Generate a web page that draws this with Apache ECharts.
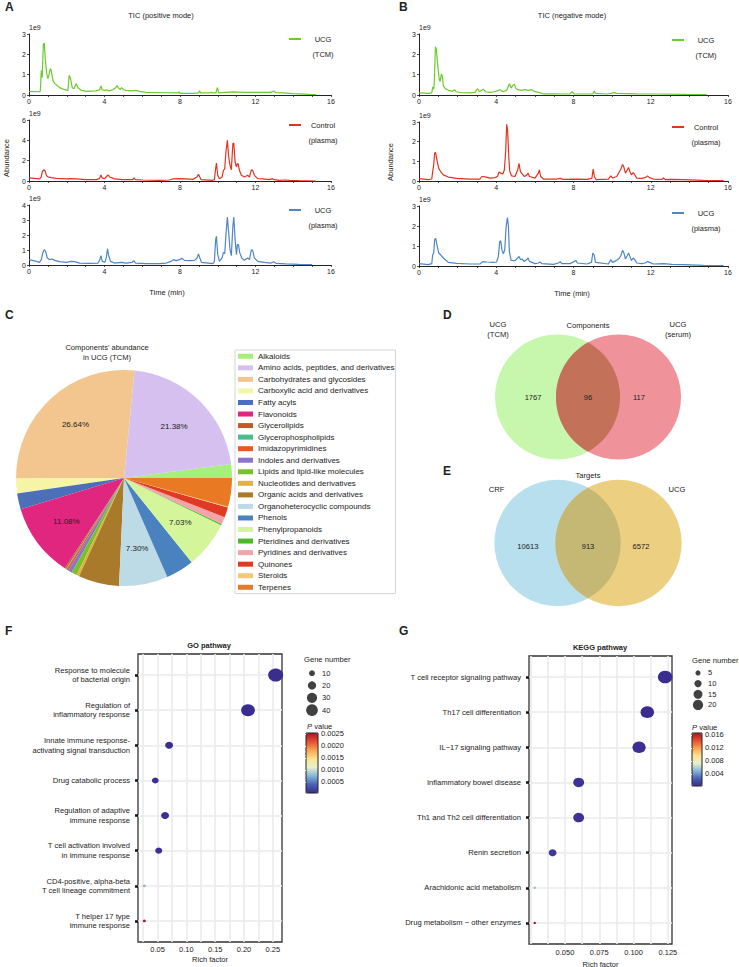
<!DOCTYPE html>
<html>
<head>
<meta charset="utf-8">
<script src="https://cdn.jsdelivr.net/npm/echarts@6/dist/echarts.min.js"></script>
<style>
  html, body { margin: 0; padding: 0; background: #fff; }
  #main { width: 739px; height: 967px; }
</style>
</head>
<body>
<div id="main"></div>
<script>
var FONT = '"Liberation Sans", Arial, Helvetica, sans-serif';

// ---- A / B : TIC chromatograms, [time (min), abundance (x1e9)] ----
var ticPosTcm = [[0,.18],[.56,.16],[.6,.2],[.65,1.2],[.7,.85],[.76,2.5],[.81,2.55],[.86,1.8],[.93,1.1],[1.0,.8],[1.06,1.0],[1.13,1.3],[1.18,1.2],[1.27,.72],[1.36,.56],[1.48,.48],[1.62,.36],[1.89,.26],[2.06,.23],[2.13,.97],[2.2,.8],[2.29,.36],[2.38,.31],[2.49,.56],[2.6,.36],[2.77,.23],[3.03,.18],[3.56,.2],[3.74,.26],[3.81,.44],[3.88,.26],[4.0,.23],[4.13,.26],[4.23,.2],[4.44,.26],[4.59,.36],[4.66,.46],[4.73,.36],[4.83,.26],[4.9,.36],[5.0,.26],[5.15,.23],[5.41,.2],[5.68,.23],[5.86,.18],[6.2,.13],[7.27,.11],[7.9,.1],[7.95,.16],[8.0,.08],[8.68,.08],[8.98,.1],[9.03,.21],[9.1,.1],[9.56,.1],[9.65,.13],[9.74,.1],[9.9,.1],[9.98,.36],[10.05,.1],[10.44,.13],[10.8,.15],[11.5,.13],[12.2,.13],[12.82,.13],[12.96,.2],[13.09,.11],[13.44,.1],[13.97,.07],[14.85,.03],[15.2,.02]];
var ticPosControl = [[0,.3],[.56,.2],[.65,.4],[.7,.9],[.78,1.1],[.85,1.0],[.92,.55],[1.0,.4],[1.18,.33],[1.45,.26],[1.98,.2],[2.24,.23],[2.5,.2],[3.03,.13],[3.56,.13],[3.74,.23],[3.81,.59],[3.88,.3],[4.0,.23],[4.13,.49],[4.2,.59],[4.27,.39],[4.37,.33],[4.53,.2],[4.97,.13],[5.5,.13],[5.56,.3],[5.64,.13],[6.03,.1],[6.9,.07],[7.44,.1],[7.62,.2],[7.97,.23],[8.32,.2],[8.68,.16],[8.9,.39],[8.98,.66],[9.05,.39],[9.12,.13],[9.74,.07],[9.82,.13],[9.88,1.1],[9.93,1.77],[10.0,.56],[10.09,.23],[10.23,.39],[10.3,1.05],[10.37,1.2],[10.44,3.0],[10.51,4.0],[10.58,2.36],[10.65,1.54],[10.72,1.1],[10.8,3.67],[10.85,3.74],[10.92,1.87],[10.99,1.38],[11.04,1.7],[11.08,1.68],[11.15,1.05],[11.25,.56],[11.41,.39],[11.59,.56],[11.68,.39],[11.78,1.1],[11.85,1.05],[11.94,.56],[12.12,.23],[12.38,.2],[12.73,.13],[12.9,.23],[13.0,.13],[13.26,.07],[13.6,.1],[13.8,.07],[14.3,.03],[15.2,0]];
var ticPosUcg = [[0,.36],[.39,.24],[.56,.18],[.65,.36],[.74,.84],[.81,1.02],[.88,.91],[.97,.47],[1.09,.36],[1.23,.4],[1.36,.31],[1.62,.22],[1.98,.18],[2.24,.24],[2.42,.22],[2.68,.13],[3.21,.11],[3.65,.13],[3.74,.31],[3.81,.62],[3.88,.24],[4.02,.18],[4.09,.47],[4.16,1.07],[4.23,.58],[4.32,.24],[4.53,.13],[4.89,.18],[5.15,.13],[5.47,.18],[5.56,.29],[5.64,.13],[6.21,.09],[6.9,.09],[7.27,.13],[7.53,.24],[7.65,.36],[7.8,.29],[7.97,.36],[8.11,.44],[8.24,.31],[8.5,.29],[8.77,.31],[8.9,.47],[8.98,.73],[9.05,.47],[9.14,.18],[9.74,.09],[9.82,.24],[9.89,1.69],[9.93,1.91],[10.0,.69],[10.09,.24],[10.23,.47],[10.3,.84],[10.37,.76],[10.44,2.13],[10.51,3.2],[10.58,2.13],[10.65,1.02],[10.72,.62],[10.8,2.58],[10.85,3.2],[10.92,1.69],[10.99,.69],[11.04,1.36],[11.1,1.36],[11.16,.84],[11.27,.47],[11.41,.31],[11.59,.47],[11.68,.36],[11.78,1.02],[11.85,.98],[11.94,.47],[12.12,.24],[12.47,.18],[12.82,.13],[12.96,.22],[13.09,.11],[13.6,.07],[14.3,.04],[15.0,.02]];
var ticNegTcm = [[0,.1],[.48,.08],[.66,.1],[.71,.39],[.76,.29],[.79,.58],[.85,2.37],[.9,2.24],[.97,1.47],[1.04,.83],[1.09,.66],[1.16,1.04],[1.21,.91],[1.26,.45],[1.36,.32],[1.52,.23],[1.74,.18],[1.85,.26],[1.92,.16],[2.21,.11],[2.64,.1],[2.9,.13],[3.02,.31],[3.13,.16],[3.25,.23],[3.33,.29],[3.44,.16],[3.68,.13],[3.89,.16],[4.11,.23],[4.2,.26],[4.34,.16],[4.54,.23],[4.68,.55],[4.77,.34],[4.85,.47],[4.94,.53],[5.01,.34],[5.11,.26],[5.32,.23],[5.49,.26],[5.66,.23],[5.84,.26],[5.96,.18],[6.18,.13],[6.44,.06],[6.96,.06],[7.48,.05],[7.82,.06],[7.94,.16],[8.03,.06],[8.69,.05],[9.0,.06],[9.07,.19],[9.14,.08],[9.72,.05],[9.98,.08],[10.1,.13],[10.24,.08],[11.28,.06],[12.31,.05],[13.87,.03],[14.9,.02]];
var ticNegControl = [[0,.12],[.48,.07],[.66,.1],[.71,.48],[.76,.81],[.81,1.42],[.86,1.44],[.93,1.06],[1.02,.64],[1.12,.48],[1.26,.31],[1.52,.2],[1.95,.13],[2.64,.1],[3.16,.1],[3.25,.23],[3.42,.21],[3.68,.15],[3.94,.17],[4.06,.23],[4.15,.46],[4.23,.4],[4.34,.36],[4.42,.56],[4.49,1.55],[4.54,2.88],[4.59,2.55],[4.65,1.22],[4.7,.48],[4.8,.26],[4.97,.23],[5.11,.56],[5.18,.89],[5.25,.48],[5.35,.35],[5.46,.23],[5.58,.31],[5.65,.4],[5.72,.23],[6.01,.15],[6.18,.4],[6.23,.56],[6.3,.23],[6.44,.1],[7.13,.1],[7.31,.13],[7.48,.08],[8.17,.1],[8.69,.08],[8.95,.13],[9.02,.6],[9.08,.23],[9.17,.07],[9.81,.1],[9.93,.26],[10.02,.15],[10.24,.23],[10.38,.48],[10.45,.6],[10.54,.84],[10.6,.73],[10.69,.4],[10.78,.56],[10.85,.69],[10.92,.48],[11.0,.31],[11.09,.43],[11.17,.31],[11.28,.15],[11.54,.13],[11.71,.17],[11.83,.26],[11.93,.17],[12.14,.1],[12.57,.08],[12.66,.15],[12.75,.07],[13.09,.08],[13.7,.07],[14.73,.03],[15.77,.02]];
var ticNegUcg = [[0,.12],[.48,.07],[.66,.12],[.71,.56],[.76,.65],[.81,1.31],[.86,1.39],[.93,1.06],[1.02,.65],[1.12,.56],[1.26,.4],[1.52,.18],[1.95,.13],[2.64,.1],[3.16,.1],[3.3,.22],[3.51,.2],[3.85,.18],[4.02,.2],[4.11,.48],[4.18,1.23],[4.23,1.26],[4.3,.78],[4.37,.61],[4.44,.81],[4.51,1.97],[4.58,2.42],[4.63,1.97],[4.68,.73],[4.77,.28],[4.97,.27],[5.11,.4],[5.18,.48],[5.25,.32],[5.34,.35],[5.44,.23],[5.58,.32],[5.65,.4],[5.72,.23],[6.01,.12],[6.18,.15],[6.27,.2],[6.36,.12],[6.96,.08],[7.22,.15],[7.31,.22],[7.39,.12],[7.82,.12],[8.03,.22],[8.12,.28],[8.2,.15],[8.69,.1],[8.93,.18],[9.0,.65],[9.07,.56],[9.14,.18],[9.81,.1],[9.93,.32],[10.02,.18],[10.24,.28],[10.38,.4],[10.45,.51],[10.54,.78],[10.6,.68],[10.69,.35],[10.78,.51],[10.85,.65],[10.92,.48],[11.0,.27],[11.09,.4],[11.17,.32],[11.28,.15],[11.54,.12],[11.71,.15],[11.83,.23],[11.93,.18],[12.14,.1],[12.66,.12],[13.09,.08],[13.7,.07],[14.73,.03],[15.77,.02]];

// ---- C : component classes (%) ----
var pieNames = ['Alkaloids', 'Amino acids, peptides, and derivatives', 'Carbohydrates and glycosides', 'Carboxylic acid and derivatives', 'Fatty acyls', 'Flavonoids', 'Glycerolipids', 'Glycerophospholipids', 'Imidazopyrimidines', 'Indoles and derivatives', 'Lipids and lipid-like molecules', 'Nucleotides and derivatives', 'Organic acids and derivatives', 'Organoheterocyclic compounds', 'Phenols', 'Phenylpropanoids', 'Pteridines and derivatives', 'Pyridines and derivatives', 'Quinones', 'Steroids', 'Terpenes'];
var pieValues = [2.07, 21.38, 26.64, 2.2, 2.4, 11.08, 0.2, 0.1, 0.3, 0.6, 0.8, 0.4, 6.1, 7.30, 4.2, 7.03, 0.2, 1.1, 1.5, 0.1, 4.3];
var pieColors = ['#a6ef7a', '#d5c0ef', '#f2c68e', '#f5f5a5', '#4b6fb8', '#e0267e', '#c4582a', '#4dbb8a', '#e35a22', '#8c73cf', '#77c12a', '#e2b23a', '#a87a2a', '#bcdbe6', '#4a82c0', '#d5f59a', '#4fb82a', '#f3a3aa', '#e03a22', '#f2c878', '#e97a23'];

// ---- D / E : Venn counts [left only, shared, right only] ----
var vennDSets = ['UCG\n(TCM)', 'UCG\n(serum)'];
var vennDCounts = [1767, 96, 117];
var vennESets = ['CRF', 'UCG'];
var vennECounts = [10613, 913, 6572];

// ---- F : GO enrichment ----
var goTerms = ['Response to molecule\nof bacterial origin', 'Regulation of\ninflammatory response', 'Innate immune response-\nactivating signal transduction', 'Drug catabolic process', 'Regulation of adaptive\nimmune response', 'T cell activation involved\nin immune response', 'CD4-positive, alpha-beta\nT cell lineage commitment', 'T helper 17 type\nimmune response'];
var goRich = [0.255, 0.207, 0.070, 0.046, 0.063, 0.052, 0.027, 0.027];
var goGenes = [50, 42, 14, 10, 14, 11, 2, 2];
var goP = [0.00004, 0.00004, 0.00005, 0.00006, 0.00005, 0.00006, 0.00075, 0.00254];
var goRichTicks = [0.05, 0.10, 0.15, 0.20, 0.25];
var goGeneBreaks = [10, 20, 30, 40];
var goPTicks = [0.0005, 0.0010, 0.0015, 0.0020, 0.0025];

// ---- G : KEGG enrichment ----
var keggTerms = ['T cell receptor signaling pathway', 'Th17 cell differentiation', 'IL\u221217 signaling pathway', 'Inflammatory bowel disease', 'Th1 and Th2 cell differentiation', 'Renin secretion', 'Arachidonic acid metabolism', 'Drug metabolism \u2212 other enzymes'];
var keggRich = [0.123, 0.110, 0.104, 0.060, 0.060, 0.041, 0.028, 0.028];
var keggGenes = [30, 26, 25, 17, 17, 9, 1, 1];
var keggP = [0.0003, 0.0003, 0.0004, 0.0006, 0.0006, 0.0009, 0.0052, 0.0166];
var keggRichTicks = [0.050, 0.075, 0.100, 0.125];
var keggGeneBreaks = [5, 10, 15, 20];
var keggPTicks = [0.004, 0.008, 0.012, 0.016];

var PAL = ['#3b2c90', '#4a62b4', '#86b6db', '#e9f1cc', '#fde38f', '#f8a255', '#e64e2e', '#a8162a'];
var GREEN = '#6acb2e', RED = '#e5321f', BLUE = '#4f86c6';

var grids = [], xAxes = [], yAxes = [], series = [], legends = [], graphics = [], visualMaps = [];

function addGrid(box, extra) {
    var g = { left: box[0], top: box[1], width: box[2], height: box[3], containLabel: false, outerBoundsMode: 'none' };
    for (var k in (extra || {})) g[k] = extra[k];
    grids.push(g);
    return grids.length - 1;
}

function txt(x, y, text, size, opt) {
    opt = opt || {};
    var el = {
        type: 'text', x: x, y: y, rotation: opt.rotation || 0, silent: true,
        style: {
            text: text, fill: '#222',
            font: (opt.weight || 'normal') + ' ' + size + 'px ' + FONT,
            textAlign: opt.align || 'center', textVerticalAlign: 'middle',
            lineHeight: opt.lineHeight || size * 1.3
        }
    };
    if (opt.rich) el.style.rich = opt.rich;
    return el;
}

// ---------- A / B ----------
var ticPanels = [
    { data: ticPosTcm, name: 'UCG (TCM)', color: GREEN, max: 3, step: 1, box: [29, 34, 302, 61], leg: [289, 40] },
    { data: ticPosControl, name: 'Control (plasma)', color: RED, max: 6, step: 2, box: [29, 120, 302, 61], leg: [289, 126] },
    { data: ticPosUcg, name: 'UCG (plasma)', color: BLUE, max: 4, step: 1, box: [29, 205, 302, 60], leg: [289, 211] },
    { data: ticNegTcm, name: 'UCG (TCM)', color: GREEN, max: 3, step: 1, box: [419, 34, 309, 61], leg: [672, 41] },
    { data: ticNegControl, name: 'Control (plasma)', color: RED, max: 3, step: 1, box: [419, 122, 309, 59], leg: [672, 128] },
    { data: ticNegUcg, name: 'UCG (plasma)', color: BLUE, max: 3, step: 1, box: [419, 206, 309, 60], leg: [672, 214] }
];

ticPanels.forEach(function (p) {
    var g = addGrid(p.box);
    xAxes.push({
        gridIndex: g, type: 'value', min: 0, max: 16, interval: 1,
        axisLine: { show: true, onZero: false, lineStyle: { color: '#222', width: 1 } },
        axisTick: { show: true, length: 2, lineStyle: { color: '#222', width: 0.8 } },
        axisLabel: { fontSize: 7, color: '#222', margin: 3, fontFamily: FONT,
            formatter: function (v) { return v % 4 === 0 ? String(v) : ''; } },
        splitLine: { show: false }
    });
    yAxes.push({
        gridIndex: g, type: 'value', min: 0, max: p.max, interval: p.step,
        name: '1e9', nameLocation: 'end', nameGap: 0,
        nameTextStyle: { fontSize: 7, color: '#222', align: 'left', fontFamily: FONT },
        axisLine: { show: true, lineStyle: { color: '#222', width: 1 } },
        axisTick: { show: true, length: 2, lineStyle: { color: '#222', width: 0.8 } },
        axisLabel: { fontSize: 7, color: '#222', margin: 3, fontFamily: FONT },
        splitLine: { show: false }
    });
    series.push({
        type: 'line', name: p.name, xAxisIndex: g, yAxisIndex: g, data: p.data,
        showSymbol: false, symbol: 'none', silent: true,
        lineStyle: { width: 1.2, color: p.color }, itemStyle: { color: p.color }
    });
    var parts = p.name.split(' ');
    legends.push({
        data: [p.name], left: p.leg[0], top: p.leg[1] - 5, padding: 0,
        icon: 'rect', itemWidth: 12, itemHeight: 2, selectedMode: false,
        formatter: function () { return '{a|' + parts[0] + '}'; },
        textStyle: { rich: { a: { width: 34, align: 'center', fontSize: 7.5, lineHeight: 10, color: '#222', fontFamily: FONT } } }
    });
    graphics.push(txt(p.leg[0] + 34, p.leg[1] + 14.5, parts[1], 7.5));
});

graphics.push(txt(161, 15, 'TIC (positive mode)', 7.5));
graphics.push(txt(572, 15, 'TIC (negative mode)', 7.5));
graphics.push(txt(167, 292, 'Time (min)', 7.5));
graphics.push(txt(572, 293, 'Time (min)', 7.5));
graphics.push(txt(6, 158, 'Abundance', 7.5, { rotation: Math.PI / 2 }));
graphics.push(txt(390, 162, 'Abundance', 7.5, { rotation: Math.PI / 2 }));

// ---------- C ----------
var pieData = pieNames.map(function (n, i) { return { name: n, value: pieValues[i] }; });
series.push({
    type: 'pie', name: 'classes', center: [124, 478], radius: [0, 108],
    startAngle: 0, clockwise: false, data: pieData, color: pieColors,
    label: { show: false }, labelLine: { show: false }, itemStyle: { borderWidth: 0 },
    emphasis: { disabled: true }, silent: true, avoidLabelOverlap: false
});
series.push({
    type: 'pie', name: 'classes-labels', center: [124, 478], radius: [30, 108],
    startAngle: 0, clockwise: false, data: pieData,
    itemStyle: { color: 'rgba(0,0,0,0)', borderWidth: 0 },
    label: { show: true, position: 'inside', fontSize: 8, color: '#222', fontFamily: FONT,
        formatter: function (p) { return p.value >= 7 ? p.value.toFixed(2) + '%' : ''; } },
    labelLine: { show: false }, emphasis: { disabled: true }, silent: true, avoidLabelOverlap: false,
    legendHoverLink: false
});
legends.push({
    data: pieNames, orient: 'vertical', left: 235, top: 350, selectedMode: false,
    itemWidth: 15, itemHeight: 5, itemGap: 0, icon: 'rect',
    padding: [0.5, 1, 0.5, 3], borderColor: '#d6d6d6', borderWidth: 1,
    textStyle: { fontSize: 8, color: '#222', fontFamily: FONT, lineHeight: 11.55 }
});
graphics.push(txt(107, 352, "Components' abundance\nin UCG (TCM)", 7.5, { lineHeight: 10 }));

// ---------- D / E ----------
function addVenn(center, sets, counts, colors, title, lay) {
    var g = addGrid([center[0] - 122, center[1] - 122, 244, 244]);
    xAxes.push({ gridIndex: g, type: 'value', min: -4, max: 4, show: false });
    yAxes.push({ gridIndex: g, type: 'value', min: -4, max: 4, show: false });
    series.push({
        type: 'custom', xAxisIndex: g, yAxisIndex: g, silent: true, clip: false,
        data: [[0, 0].concat(counts)],
        renderItem: function (params, api) {
            var c = api.coord([0, 0]);
            var u = api.size([1, 1])[0];
            var d = lay.offset * u, r = lay.radius * u, cx = c[0], cy = c[1];
            var a = Math.acos(d / r), pts = [], k, t;
            for (k = 0; k <= 48; k++) { t = -a + 2 * a * k / 48; pts.push([cx - d + r * Math.cos(t), cy + r * Math.sin(t)]); }
            for (k = 0; k <= 48; k++) { t = Math.PI - a + 2 * a * k / 48; pts.push([cx + d + r * Math.cos(t), cy + r * Math.sin(t)]); }
            return {
                type: 'group', children: [
                    { type: 'circle', shape: { cx: cx - d, cy: cy, r: r }, style: { fill: colors[0] } },
                    { type: 'circle', shape: { cx: cx + d, cy: cy, r: r }, style: { fill: colors[1] } },
                    { type: 'polygon', shape: { points: pts }, style: { fill: colors[2] } },
                    txt(cx - lay.numL * u, cy + lay.numDy * u, String(api.value(2)), 7.6),
                    txt(cx, cy + lay.numDy * u, String(api.value(3)), 7.6),
                    txt(cx + lay.numR * u, cy + lay.numDy * u, String(api.value(4)), 7.6),
                    txt(cx - lay.setL * u, cy - lay.setDy * u, sets[0], 7.6, { lineHeight: 10 }),
                    txt(cx + lay.setR * u, cy - lay.setDy * u, sets[1], 7.6, { lineHeight: 10 }),
                    txt(cx, cy - lay.titleDy * u, title, 7.6)
                ]
            };
        }
    });
}
addVenn([588, 397], vennDSets, vennDCounts, ['#c6f7ac', '#f0929a', '#c4715a'], 'Components',
    { offset: 1, radius: 2.05, numL: 1.8, numR: 1.67, numDy: 0, setL: 2.95, setR: 2.95, setDy: 2.2, titleDy: 2.36 });
addVenn([588, 543], vennESets, vennECounts, ['#b7dfee', '#eccf80', '#c5b774'], 'Targets',
    { offset: 1, radius: 2.07, numL: 1.97, numR: 1.74, numDy: 0.1, setL: 3.0, setR: 2.92, setDy: 1.77, titleDy: 2.2 });

// ---------- F / G ----------
function addEnrich(cfg) {
    var rows = cfg.terms.map(function (t, i) { return i; });
    var gridVals = [];
    for (var k = 1; k * cfg.minor <= cfg.xMax + 1e-9; k++) {
        if (k * cfg.minor >= cfg.xMin) gridVals.push(+(k * cfg.minor).toFixed(5));
    }
    var g = addGrid(cfg.box, { show: true, borderColor: '#333', borderWidth: 1.3, backgroundColor: '#fff' });
    xAxes.push({
        gridIndex: g, type: 'value', min: cfg.xMin, max: cfg.xMax,
        axisLine: { show: false },
        axisTick: { show: false, customValues: gridVals },
        axisLabel: { customValues: cfg.xTicks, fontSize: 7.5, color: '#222', margin: cfg.labelMargin, fontFamily: FONT,
            formatter: function (v) { return v.toFixed(cfg.dec); } },
        splitLine: { show: true, lineStyle: { color: '#ebebeb', width: 1.6 } },
        name: 'Rich factor', nameLocation: 'middle', nameGap: cfg.nameGap,
        nameTextStyle: { fontSize: 7.5, color: '#222', fontFamily: FONT }
    });
    yAxes.push({
        gridIndex: g, type: 'value', min: -0.6, max: cfg.terms.length - 0.4, inverse: true,
        axisLine: { show: false },
        axisTick: { show: true, customValues: rows, length: 3, lineStyle: { color: '#111', width: 2.5 } },
        axisLabel: { customValues: rows, fontSize: 7.6, color: '#222', margin: 8, lineHeight: 9.5, align: 'right', fontFamily: FONT,
            formatter: function (v) { return cfg.terms[Math.round(v)]; } },
        splitLine: { show: true, lineStyle: { color: '#ebebeb', width: 1.6 } }
    });
    series.push({
        type: 'scatter', xAxisIndex: g, yAxisIndex: g, silent: true, z: 5,
        data: cfg.rich.map(function (r, i) { return [r, i, cfg.genes[i], cfg.p[i]]; }),
        symbolSize: function (v) { var s = cfg.size(v[2]); return [s * 1.15, s]; },
        itemStyle: { opacity: 1 }
    });
    visualMaps.push({
        type: 'continuous', seriesIndex: series.length - 1, dimension: 3,
        min: cfg.pMin, max: cfg.pMax, inRange: { color: PAL },
        left: cfg.bar[0], top: cfg.bar[1], itemWidth: cfg.bar[2], itemHeight: cfg.bar[3],
        calculable: false, hoverLink: false, padding: 0, show: true
    });
    var gb = addGrid(cfg.bar, { show: true, borderColor: '#222', borderWidth: 1, backgroundColor: 'rgba(0,0,0,0)', z: 10 });
    xAxes.push({ gridIndex: gb, type: 'value', show: false, min: 0, max: 1 });
    yAxes.push({
        gridIndex: gb, type: 'value', position: 'right', min: cfg.pMin, max: cfg.pMax, z: 11,
        axisLine: { show: false },
        axisTick: { show: true, inside: true, customValues: cfg.pTicks, length: 2, lineStyle: { color: '#fff', width: 1 } },
        axisLabel: { customValues: cfg.pTicks, fontSize: 7.5, color: '#222', margin: 3, fontFamily: FONT,
            formatter: function (v) { return v.toFixed(cfg.pDec); } },
        splitLine: { show: false }
    });
    var gs = addGrid(cfg.sizeBox);
    xAxes.push({ gridIndex: gs, type: 'value', show: false, min: -1, max: 1 });
    yAxes.push({
        gridIndex: gs, type: 'category', inverse: true, position: 'right', data: cfg.breaks.map(String),
        axisLine: { show: false }, axisTick: { show: false },
        axisLabel: { fontSize: 7.5, color: '#222', margin: 4, fontFamily: FONT }, splitLine: { show: false }
    });
    series.push({
        type: 'scatter', xAxisIndex: gs, yAxisIndex: gs, silent: true,
        data: cfg.breaks.map(function (b, i) { return [0, i, b]; }),
        symbolSize: function (v) { return cfg.size(v[2]); },
        itemStyle: { color: '#111' }
    });
    graphics.push(txt(cfg.title[0], cfg.title[1], cfg.titleText, 7.5, { weight: 'bold' }));
    graphics.push(txt(cfg.geneTitle[0], cfg.geneTitle[1], 'Gene number', 7.6, { align: 'left' }));
    graphics.push(txt(cfg.pTitle[0], cfg.pTitle[1], '{i|P} value', 7.6, { align: 'left',
        rich: { i: { fontStyle: 'italic', fontSize: 7.6, fontFamily: FONT, fill: '#222' } } }));
}

addEnrich({
    terms: goTerms, rich: goRich, genes: goGenes, p: goP, xTicks: goRichTicks, dec: 2,
    xMin: 0.016, xMax: 0.266, minor: 0.025, box: [138, 654, 144, 288], labelMargin: 3, nameGap: 13,
    size: function (n) { return 1.85 * Math.sqrt(n); }, breaks: goGeneBreaks,
    pMin: 0.00004, pMax: 0.00254, pTicks: goPTicks, pDec: 4,
    bar: [306, 733, 12, 60], sizeBox: [306, 667, 12, 49.3],
    title: [209, 645], titleText: 'GO pathway', geneTitle: [304, 659], pTitle: [307, 726]
});
addEnrich({
    terms: keggTerms, rich: keggRich, genes: keggGenes, p: keggP, xTicks: keggRichTicks, dec: 3,
    xMin: 0.0238, xMax: 0.128, minor: 0.0125, box: [529, 656, 143, 288], labelMargin: 4, nameGap: 16,
    size: function (n) { return 2.3 * Math.sqrt(n); }, breaks: keggGeneBreaks,
    pMin: 0.0003, pMax: 0.0166, pTicks: keggPTicks, pDec: 3,
    bar: [692, 733, 10, 53], sizeBox: [692, 667.6, 12, 42.7],
    title: [600, 647], titleText: 'KEGG pathway', geneTitle: [692, 660], pTitle: [692, 727]
});

// panel letters
[['A', 5, 7], ['B', 399, 7], ['C', 5, 315], ['D', 443, 315], ['E', 443, 471], ['F', 5, 631], ['G', 399, 631]].forEach(function (l) {
    graphics.push(txt(l[1], l[2], l[0], 12, { weight: 'bold', align: 'left' }));
});

var chart = echarts.init(document.getElementById('main'), null, { renderer: 'svg', width: 739, height: 967 });
chart.setOption({
    animation: false,
    backgroundColor: '#fff',
    textStyle: { fontFamily: FONT },
    grid: grids,
    xAxis: xAxes,
    yAxis: yAxes,
    legend: legends,
    visualMap: visualMaps,
    series: series,
    graphic: { elements: graphics }
});
</script>
</body>
</html>
